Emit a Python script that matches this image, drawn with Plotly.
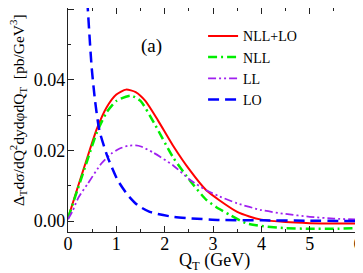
import plotly.graph_objects as go

# ---- data ----
qt_nlllo = [0, 0.2, 0.4, 0.6, 0.8, 1.0, 1.2, 1.4, 1.6, 1.86, 2.17, 2.52, 2.86, 3.13, 3.5, 3.75, 4.0, 4.5, 5.0, 5.5, 6.0]
nlllo = [0.0008, 0.0095, 0.0180, 0.0262, 0.0322, 0.0358, 0.0372, 0.0365, 0.0340, 0.0285, 0.0214, 0.0144, 0.0087, 0.0059,
         0.0026, 0.0013, 0.0004, -0.0003, -0.0006, -0.0007, -0.0007]

qt_nll = [0, 0.2, 0.4, 0.6, 0.8, 1.0, 1.3, 1.5, 1.79, 2.17, 2.52, 2.86, 3.07, 3.34, 3.68, 4.0, 4.5, 5.0, 5.5, 6.0]
nll = [0.0008, 0.0090, 0.0172, 0.0252, 0.0308, 0.0340, 0.0355, 0.0340, 0.0275, 0.0181, 0.0115, 0.0060, 0.0039, 0.0018,
       -0.0006, -0.0014, -0.0020, -0.0022, -0.0022, -0.0020]

qt_ll = [0, 0.1, 0.21, 0.41, 0.69, 0.89, 1.05, 1.24, 1.4, 1.51, 1.76, 2.17, 2.52, 2.86, 3.13, 3.5, 4.0, 4.5, 5.0, 5.5, 6.0]
ll = [0.0005, 0.0030, 0.0065, 0.0106, 0.0163, 0.0190, 0.0204, 0.0213, 0.0214, 0.0211, 0.0194, 0.0158, 0.0117, 0.0087,
      0.0070, 0.0050, 0.0031, 0.0020, 0.0012, 0.0007, 0.0004]

qt_lo = [0.36, 0.41, 0.49, 0.56, 0.65, 0.82, 1.03, 1.24, 1.44, 1.69, 2.17, 2.5, 3.13, 4.0, 5.0, 6.0]
lo = [0.072, 0.060, 0.0434, 0.0340, 0.0256, 0.0181, 0.0115, 0.0073, 0.0045, 0.0026, 0.0012, 0.0008, 0.0003, 0.0002,
      0.0001, 0.0000]

x_ticks = [0, 1, 2, 3, 4, 5, 6]
y_ticks = [0.00, 0.02, 0.04, 0.06]

FONT = "Liberation Serif"

fig = go.Figure()
fig.add_trace(go.Scatter(x=qt_nlllo, y=nlllo, mode="lines", name="NLL+LO",
                         line=dict(color="#ff0000", width=2, shape="spline", smoothing=0.6)))
fig.add_trace(go.Scatter(x=qt_nll, y=nll, mode="lines", name="NLL",
                         line=dict(color="#00ee00", width=2.5, dash="9px,4px,2px,4px", shape="spline", smoothing=0.6)))
fig.add_trace(go.Scatter(x=qt_ll, y=ll, mode="lines", name="LL",
                         line=dict(color="#a020f0", width=1.8, dash="8px,3px,2px,3px,2px,3px", shape="spline", smoothing=0.6)))
fig.add_trace(go.Scatter(x=qt_lo, y=lo, mode="lines", name="LO",
                         line=dict(color="#0000ff", width=2.5, dash="11px,6px", shape="spline", smoothing=0.6)))

axis_common = dict(showline=True, linecolor="#222", linewidth=1.2, mirror="ticks", ticks="inside",
                   ticklen=6, tickcolor="#222", showgrid=False, zeroline=False, automargin=False,
                   tickfont=dict(family=FONT, size=18, color="black"))

fig.update_xaxes(range=[0, 6.06], tickvals=x_ticks, ticktext=[str(v) for v in x_ticks],
                 minor=dict(dtick=0.5, ticks="inside", ticklen=3, tickcolor="#222"),
                 ticklabelstandoff=-5,
                 **axis_common)
fig.update_yaxes(range=[-0.0031, 0.0603], tickvals=y_ticks, ticktext=["%.2f" % v for v in y_ticks],
                 minor=dict(dtick=0.01, ticks="inside", ticklen=3, tickcolor="#222"),
                 ticklabelstandoff=-2,
                 **axis_common)

fig.add_annotation(x=0.5, y=-0.133, xref="paper", yref="paper", yanchor="middle", showarrow=False,
                   text="Q<sub>T</sub> (GeV)", font=dict(family=FONT, size=18, color="black"))
fig.add_annotation(x=-0.17, y=0.545, xref="paper", yref="paper", xanchor="center", yanchor="middle",
                   textangle=-90, showarrow=False,
                   text="Δ<sub>T</sub>dσ/dQ<sup>2</sup>dydφdQ<sub>T</sub>  [pb/GeV<sup>3</sup>]",
                   font=dict(family=FONT, size=15.5, color="black"))
fig.add_annotation(x=1.73, y=0.0495, text="(a)", showarrow=False,
                   font=dict(family=FONT, size=19, color="black"))

fig.update_layout(
    width=355, height=265,
    margin=dict(l=60, r=2, t=0, b=41),
    paper_bgcolor="white", plot_bgcolor="white",
    showlegend=True,
    legend=dict(x=0.461, y=0.945, xanchor="left", yanchor="top", bgcolor="rgba(0,0,0,0)",
                font=dict(family=FONT, size=14, color="black"), tracegroupgap=0),
)

fig.write_html("out.html")
